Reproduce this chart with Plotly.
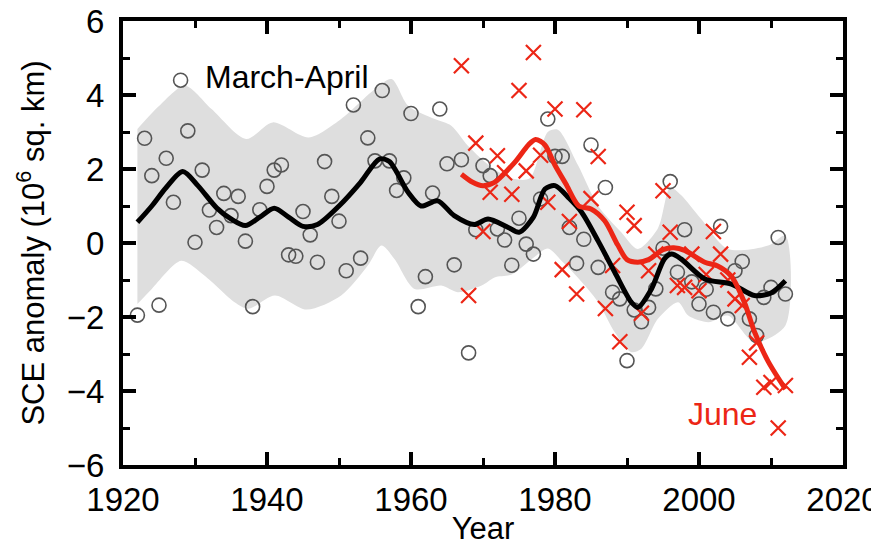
import plotly.graph_objects as go

# ---------------- data ----------------
ma_years = list(range(1922, 2013))
ma_values = [
    -1.95, 2.83, 1.82, -1.68, 2.29, 1.10, 4.40, 3.03, 0.02, 1.97,   # 1922-1931
    0.89, 0.42, 1.34, 0.74, 1.26, 0.05, -1.72, 0.90, 1.53, 1.97,    # 1932-1941
    2.11, -0.32, -0.36, 0.85, 0.22, -0.52, 2.20, 1.26, 0.59, -0.75, # 1942-1951
    3.73, -0.41, 2.84, 2.22, 4.12, 2.22, 1.42, 1.76, 3.50, -1.72,   # 1952-1961
    -0.91, 1.35, 3.62, 2.14, -0.59, 2.25, -2.97, 0.36, 2.09, 1.82,  # 1962-1971
    0.38, 0.08, -0.60, 0.67, -0.03, -0.30, 1.19, 3.35, 2.34, 2.34,  # 1972-1981
    0.42, -0.55, 0.10, 2.65, -0.66, 1.50, -1.33, -1.51, -3.18, -1.81, # 1982-1991
    -2.13, -1.74, -1.24, -0.14, 1.66, -0.79, 0.36, -1.05, -1.65, -1.25, # 1992-2001
    -1.87, 0.45, -2.05, -0.75, -0.50, -2.05, -2.50, -1.47, -1.20, 0.15, # 2002-2011
    -1.38,                                                            # 2012
]

june_years = list(range(1967, 2013))
june_values = [
    4.79, -1.42, 2.70, 0.31, 1.37, 2.36, 1.90, 1.32, 4.12, 1.95,    # 1967-1976
    5.15, 2.37, 1.10, 3.62, -0.72, 0.58, -1.38, 3.60, 1.20, 2.34,   # 1977-1986
    -1.77, -0.61, -2.67, 0.83, 0.47, -1.90, -0.75, -0.30, 1.41, 0.29, # 1987-1996
    -1.15, -1.20, -0.30, -1.29, -0.85, 0.31, -0.30, -1.00, -1.51, -1.69, # 1997-2006
    -3.09, -2.70, -3.90, -3.77, -5.00, -3.85,                         # 2007-2012
]

# smoothed March-April curve
ma_smooth_years = [1922, 1924, 1926, 1928.3, 1930.4, 1933, 1935, 1937, 1939, 1941,
                   1943, 1945, 1947, 1950, 1953, 1955.6, 1957, 1959.6, 1961.4, 1963.7,
                   1966, 1968.8, 1970.7, 1973.5, 1975, 1977, 1978.6, 1980, 1982, 1983.7,
                   1986, 1988.3, 1990.6, 1991.5, 1993.4, 1995.2, 1996.2, 1997.5, 2000.8,
                   2004.5, 2007.7, 2010, 2012]
ma_smooth_values = [0.56, 1.0, 1.5, 1.93, 1.55, 0.95, 0.65, 0.47, 0.7, 0.94,
                    0.7, 0.45, 0.5, 1.0, 1.64, 2.27, 2.2, 1.37, 1.0, 1.14,
                    0.74, 0.5, 0.65, 0.42, 0.29, 0.7, 1.46, 1.55, 1.2, 0.83,
                    0.05, -0.79, -1.6, -1.74, -1.24, -0.43, -0.3, -0.43, -0.97,
                    -1.11, -1.42, -1.35, -1.02]

# smoothed June curve
june_smooth_years = [1967, 1968.5, 1970, 1971.6, 1974.4, 1976.3, 1977.3, 1978.6, 1980,
                     1981.5, 1983.3, 1985, 1986.9, 1988.7, 1990, 1991.5, 1993, 1995,
                     1996.5, 1998, 2000.8, 2002.6, 2004.5, 2006.3, 2007.7, 2009.6, 2012]
june_smooth_values = [1.86, 1.65, 1.55, 1.64, 2.18, 2.65, 2.8, 2.65, 2.1,
                      1.6, 1.0, 0.92, 0.6, -0.05, -0.45, -0.52, -0.45, -0.18,
                      -0.13, -0.2, -0.52, -0.62, -0.9, -1.6, -2.4, -3.2, -3.95]

# uncertainty band of the March-April curve
band_upper_years = [1922, 1925, 1928.6, 1932.3, 1937.1, 1940.8, 1945.8, 1950.3, 1955,
                    1957.3, 1959.6, 1963.3, 1965.6, 1967.9, 1971.5, 1974.4, 1976.5,
                    1979, 1980.4, 1983.2, 1986, 1989.2, 1991.5, 1994.3, 1996, 1997.5,
                    2000.3, 2004, 2009.6, 2012]
band_upper_values = [3.08, 3.7, 4.25, 3.62, 2.81, 3.26, 2.85, 3.35, 4.16,
                     4.43, 3.71, 3.35, 3.17, 2.63, 2.0, 1.73, 1.75,
                     3.0, 3.06, 2.1, 1.0, 0.29, -0.16, 0.4, 1.5, 1.3,
                     0.65, -0.16, -0.07, 0.2]
band_lower_years = [1922, 1924, 1928.1, 1931.3, 1935.5, 1937.4, 1941.1, 1945.5, 1950.3,
                    1954, 1955.9, 1957.7, 1960.5, 1964.2, 1966.5, 1969.8, 1971.6,
                    1974, 1977, 1979, 1981, 1983, 1986, 1988.3, 1990.6, 1992, 1994.3,
                    1997.1, 1998.5, 2001.3, 2004, 2007.7, 2012]
band_lower_values = [-1.65, -1.24, -0.48, -0.88, -1.6, -1.78, -1.42, -1.8, -1.42,
                     -0.61, -0.07, -0.43, -1.24, -1.15, -1.33, -1.15, -0.93,
                     -0.85, -0.4, -0.15, -0.5, -0.9, -1.6, -2.41, -2.95, -2.86, -2.05,
                     -1.6, -1.96, -2.14, -1.96, -2.68, -2.23]

x_tick_values = [1920, 1940, 1960, 1980, 2000, 2020]
y_tick_values = [-6, -4, -2, 0, 2, 4, 6]

# ---------------- styling ----------------
FONT = "Liberation Sans, Arial, Helvetica, sans-serif"
RED = "rgb(236,38,22)"
GRAY_BAND = "rgb(222,222,222)"
CIRCLE = "rgb(85,85,85)"

fig = go.Figure()

fig.add_trace(go.Scatter(
    x=band_lower_years + band_upper_years[::-1],
    y=band_lower_values + band_upper_values[::-1],
    mode="lines", line=dict(width=0, shape="spline", smoothing=0.8),
    fill="toself", fillcolor=GRAY_BAND, hoverinfo="skip", showlegend=False))

fig.add_trace(go.Scatter(
    x=ma_years, y=ma_values, mode="markers",
    marker=dict(symbol="circle-open", size=14, color=CIRCLE, line=dict(width=1.6)),
    showlegend=False))

fig.add_trace(go.Scatter(
    x=june_years, y=june_values, mode="markers",
    marker=dict(symbol="x-thin-open", size=15, color=RED, line=dict(width=2.2, color=RED)),
    showlegend=False))

fig.add_trace(go.Scatter(
    x=ma_smooth_years, y=ma_smooth_values, mode="lines",
    line=dict(color="black", width=5, shape="spline", smoothing=0.8),
    showlegend=False))

fig.add_trace(go.Scatter(
    x=june_smooth_years, y=june_smooth_values, mode="lines",
    line=dict(color=RED, width=5, shape="spline", smoothing=0.8),
    showlegend=False))

fig.add_annotation(x=1942.8, y=4.5, text="March-April", showarrow=False,
                   font=dict(family=FONT, size=32, color="black"))
fig.add_annotation(x=2003.3, y=-4.62, text="June", showarrow=False,
                   font=dict(family=FONT, size=32, color=RED))

axis_common = dict(
    showgrid=False, zeroline=False,
    showline=True, linecolor="black", linewidth=4, mirror="ticks",
    ticks="inside", ticklen=13, tickwidth=3.5, tickcolor="black",
    tickfont=dict(family=FONT, size=33, color="black"),
    ticklabeloverflow="allow",
)

fig.update_xaxes(
    range=[1920, 2020], tickvals=x_tick_values,
    minor=dict(dtick=10, tick0=1920, ticks="inside", ticklen=7, tickwidth=3, tickcolor="black"),
    ticklabelstandoff=2,
    title=dict(text="Year", font=dict(family=FONT, size=31, color="black"), standoff=2),
    **axis_common)
fig.update_yaxes(
    range=[-6, 6], tickvals=y_tick_values,
    minor=dict(dtick=1, tick0=0, ticks="inside", ticklen=7, tickwidth=3, tickcolor="black"),
    ticklabelstandoff=8,
    title=dict(text="SCE anomaly (10<sup>6</sup> sq. km)",
               font=dict(family=FONT, size=31, color="black"), standoff=14),
    **axis_common)

fig.update_layout(
    width=879, height=548,
    margin=dict(l=115, r=44, t=13, b=91, autoexpand=False),
    plot_bgcolor="white", paper_bgcolor="white",
    font=dict(family=FONT),
)

fig.write_html("out.html")
